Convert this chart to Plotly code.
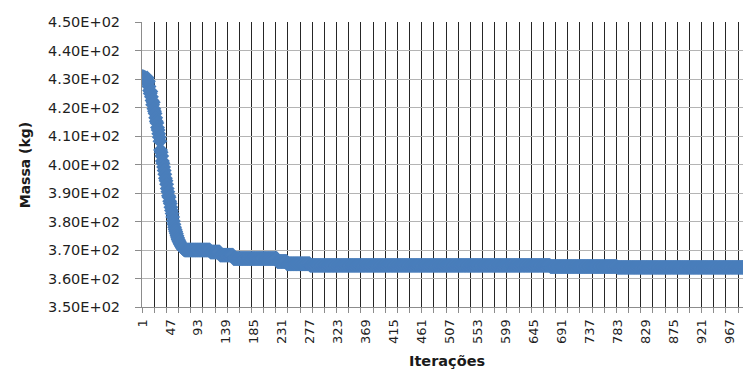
import plotly.graph_objects as go

# Best mass found during the first iterations of the optimisation
massa_inicial = [
    430.5, 430.9, 430.2, 429.8, 430.6, 429.5, 430.1, 429.0, 430.4, 428.6,
    429.2, 427.4, 426.0, 424.9, 425.6, 423.8, 422.5, 421.0, 421.8, 419.6,
    418.7, 417.9, 416.4, 415.2, 414.6, 413.0, 412.1, 410.8, 409.6, 408.2,
    405.1, 404.3, 403.0, 401.2, 400.4, 399.1, 397.9, 396.6, 395.2, 394.3,
    393.1, 391.6, 390.4, 389.0, 388.5, 387.1, 386.3, 385.0, 383.9, 382.8,
    381.6, 380.2, 379.0, 378.0, 377.2, 376.5, 375.8, 375.0, 374.3, 373.7,
    373.2, 372.8, 372.3, 371.9, 371.5, 371.1, 370.8, 370.5, 370.3, 370.1,
]

# Later plateaus: iteration where each new best value appears, and that value
inicio_patamar = [71, 113, 129, 151, 223, 239, 277, 672, 782]
massa_patamar = [370.0, 369.3, 368.2, 367.0, 366.0, 365.2, 364.6, 364.2, 363.9]

total_iteracoes = 1000

# Category tick labels and y-axis ticks
rotulos_x = [1, 47, 93, 139, 185, 231, 277, 323, 369, 415, 461, 507, 553,
             599, 645, 691, 737, 783, 829, 875, 921, 967]
ticks_y = [350, 360, 370, 380, 390, 400, 410, 420, 430, 440, 450]

# Build the full history: each plateau value is held until the next improvement
iteracoes = list(range(1, total_iteracoes + 1))
massa = list(massa_inicial)
for k, inicio in enumerate(inicio_patamar):
    fim = inicio_patamar[k + 1] if k + 1 < len(inicio_patamar) else total_iteracoes + 1
    massa.extend([massa_patamar[k]] * (fim - inicio))

# Vertical grid every 20 categories (at category boundaries)
grade_x = [0.5 + 20 * k for k in range(0, 51)]

azul = "#4a7ebb"
fonte = "DejaVu Sans"

fig = go.Figure()
fig.add_trace(go.Scatter(
    x=iteracoes,
    y=massa,
    mode="lines+markers",
    line=dict(color=azul, width=2.5),
    marker=dict(symbol="diamond", size=11.5, color=azul,
                line=dict(color=azul, width=0)),
    cliponaxis=True,
    showlegend=False,
))

fig.update_layout(
    width=743,
    height=372,
    margin=dict(l=142, r=0, t=22, b=65),
    paper_bgcolor="white",
    plot_bgcolor="white",
    font=dict(family=fonte, color="#1f1f1f"),
    xaxis=dict(
        range=[0.5, 988.5],
        tickmode="array",
        tickvals=rotulos_x,
        ticktext=[str(v) for v in rotulos_x],
        tickangle=-90,
        tickfont=dict(size=13, family=fonte, color="#1f1f1f"),
        ticks="",
        ticklabelstandoff=6,
        showgrid=False,
        showline=True,
        linecolor="#8c8c8c",
        linewidth=1,
        zeroline=False,
        minor=dict(
            tickmode="array",
            tickvals=grade_x,
            showgrid=True,
            gridcolor="#262626",
            gridwidth=1,
            ticks="outside",
            ticklen=5,
            tickcolor="#8c8c8c",
        ),
    ),
    yaxis=dict(
        range=[350, 450],
        tickmode="array",
        tickvals=ticks_y,
        ticktext=[f"{v:.2E}" for v in ticks_y],
        tickfont=dict(size=14.5, family=fonte, color="#1f1f1f"),
        ticks="outside",
        ticklen=6,
        tickcolor="#8c8c8c",
        ticklabelstandoff=12,
        showgrid=True,
        gridcolor="#b4b4b4",
        gridwidth=1,
        showline=True,
        linecolor="#8c8c8c",
        linewidth=1,
        zeroline=False,
    ),
    annotations=[
        dict(
            text="<b>Massa (kg)</b>",
            xref="paper", yref="paper",
            x=-0.195, y=0.5,
            xanchor="center", yanchor="middle",
            textangle=-90,
            showarrow=False,
            font=dict(size=14, family=fonte, color="#1a1a1a"),
        ),
        dict(
            text="<b>Iterações</b>",
            xref="paper", yref="paper",
            x=0.508, y=-0.19,
            xanchor="center", yanchor="middle",
            showarrow=False,
            font=dict(size=14.5, family=fonte, color="#1a1a1a"),
        ),
    ],
)

fig.write_html("out.html")
